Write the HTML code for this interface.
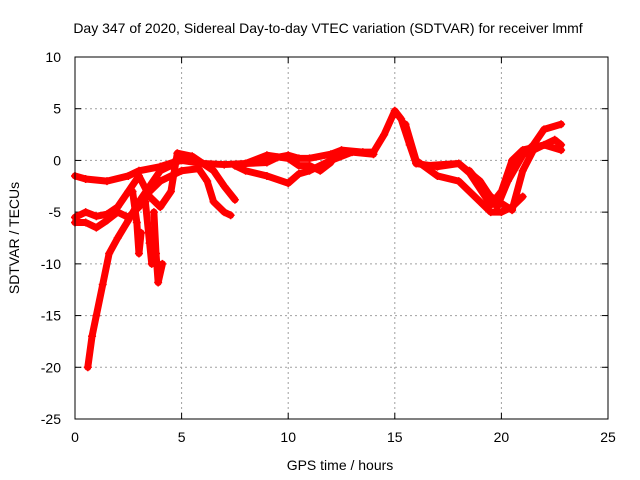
<!DOCTYPE html>
<html><head><meta charset="utf-8"><style>
html,body{margin:0;padding:0;background:#fff;}
svg{display:block;font-family:"Liberation Sans",sans-serif;}
</style></head><body>
<svg id="chart" width="640" height="480" viewBox="0 0 640 480">
<text x="328" y="33" font-size="14" text-anchor="middle" fill="#000">Day 347 of 2020, Sidereal Day-to-day VTEC variation (SDTVAR) for receiver lmmf</text>
<text x="340" y="470" font-size="14" text-anchor="middle">GPS time / hours</text>
<text transform="translate(19,238) rotate(-90)" font-size="14" text-anchor="middle">SDTVAR / TECUs</text>
<g id="grid"></g>
<g id="ticks"></g>
<g id="series"></g>
<rect x="75" y="57" width="533" height="362" fill="none" stroke="#000" stroke-width="1"/>
</svg>
<script>
const xTicks=[0,5,10,15,20,25];
const yTicks=[10,5,0,-5,-10,-15,-20,-25];
const trackA=[[0,-1.5],[0.5,-1.8],[1.5,-2],[2.5,-1.5],[3,-1],[4,-0.6],[4.6,-0.2],[5,0],[6,-0.3],[7,-0.4],[8,-0.3],[9,-0.2],[9.5,0.3],[10,0.5],[10.5,0.2],[11,0.2],[12,0.6],[12.5,1.0],[13.5,0.8],[14,0.8],[14.5,2.5],[15,4.8],[15.3,4],[15.7,1.5],[16,-0.3],[17,-0.6],[18,-0.3],[18.5,-1.2],[19.5,-4.3],[20,-3],[20.5,0],[21,1],[22,1.5],[22.8,1]];
const trackB=[[0,-5.5],[0.5,-5],[1,-5.4],[1.5,-5.2],[2,-4.5],[2.5,-3],[3,-1.5],[3.5,-3.5],[4,-4.5],[4.5,-3],[4.8,0.7],[5.5,0.4],[6,-0.3],[6.5,-1],[7,-2.5],[7.5,-3.8]];
const trackC=[[0,-6],[0.5,-6],[1,-6.5],[1.5,-5.8],[2,-5],[2.5,-5.5],[3,-4.5],[3.5,-3],[4,-2],[5,-1],[5.8,-0.8],[6.2,-2],[6.5,-4],[7,-5],[7.3,-5.3]];
const trackD=[[0.6,-20],[0.8,-17],[1,-15],[1.3,-12],[1.6,-9],[2,-7.5],[2.5,-5.8],[3,-4],[3.5,-2.5],[4,-1],[4.5,-0.5]];
const spike1=[[2.7,-3],[2.9,-6],[3,-9],[3.1,-7]];
const spike2=[[3.3,-4],[3.5,-8],[3.6,-10],[3.7,-7]];
const spike3=[[3.7,-5],[3.8,-9],[3.9,-11.8],[4.1,-10]];
const trackE=[[7.5,-0.5],[8,-1],[9,-1.5],[10,-2.2],[10.5,-1.3],[11,-1],[12,0],[13,0.8],[14,0.6]];
const trackF=[[8,-0.3],[9,0.5],[10,0.2],[10.5,-0.5],[11,-0.5],[11.5,-1],[12,-0.2]];
const trackG=[[15.5,3.5],[16,0],[17,-1.5],[18,-2],[19,-4],[19.5,-5],[20,-5],[20.5,-4.5],[21,-3.5]];
const trackH=[[16.5,-0.5],[18,-0.3],[19,-2],[19.8,-4.5],[20.3,-2],[21,0.5],[21.5,1.5],[22,3],[22.8,3.5]];
const trackI=[[18.5,-1],[19.5,-3.5],[20.5,-4.8],[21,-1],[21.5,1],[22.5,2],[22.8,1.5]];
const tracks=[trackA,trackB,trackC,trackD,spike1,spike2,spike3,trackE,trackF,trackG,trackH,trackI];
const X=h=>75+h*533/25, Y=v=>57+(10-v)*362/35;
const NS="http://www.w3.org/2000/svg";
const grid=document.getElementById('grid'),ticks=document.getElementById('ticks'),ser=document.getElementById('series');
function mk(tag,at,parent){const e=document.createElementNS(NS,tag);for(const k in at)e.setAttribute(k,at[k]);parent.appendChild(e);return e;}
xTicks.forEach(t=>{const x=X(t);
 if(t>0&&t<25){const g=mk('line',{x1:x,x2:x,y1:57,y2:419,stroke:'#a0a0a0','stroke-dasharray':'2,3'},grid);
 
 }
 mk('line',{x1:x,x2:x,y1:419,y2:413,stroke:'#000'},ticks);mk('line',{x1:x,x2:x,y1:57,y2:63,stroke:'#000'},ticks);
 const l=mk('text',{x:x,y:442,'font-size':14,'text-anchor':'middle'},ticks);l.textContent=t;
 
 });
yTicks.forEach(t=>{const y=Y(t);
 if(t<10&&t>-25){const g=mk('line',{x1:75,x2:608,y1:y,y2:y,stroke:'#a0a0a0','stroke-dasharray':'2,3'},grid);
 
 }
 mk('line',{x1:75,x2:81,y1:y,y2:y,stroke:'#000'},ticks);mk('line',{x1:608,x2:602,y1:y,y2:y,stroke:'#000'},ticks);
 const l=mk('text',{x:61,y:y+5,'font-size':14,'text-anchor':'end'},ticks);l.textContent=t;
 
 });
tracks.forEach((tr,i)=>{
 const p=mk('polyline',{points:tr.map(d=>X(d[0])+','+Y(d[1])).join(' '),fill:'none',stroke:'#ff0000','stroke-width':7,'stroke-linejoin':'round','stroke-linecap':'round'},ser);
 
 
 tr.forEach(d=>{const x=X(d[0]),y=Y(d[1]);
  const m=mk('path',{d:`M${x-4},${y}H${x+4}M${x},${y-4}V${y+4}`,stroke:'#ff0000','stroke-width':1.5},ser);
  
  });
});
</script>
</body></html>
